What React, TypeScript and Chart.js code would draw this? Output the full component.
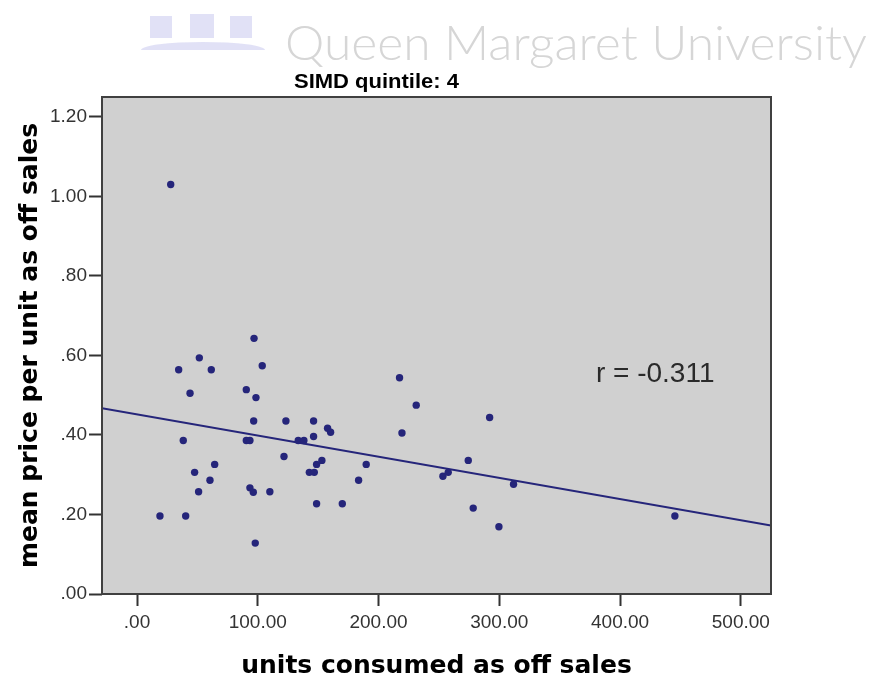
import React, { useEffect, useRef } from 'react';
import { Chart, registerables } from 'chart.js';

Chart.register(...registerables);

// ---- data ----
const unitsConsumed = [
  27.9, 19, 40.3, 34.5, 38.3, 43.9, 47.7, 51.6, 51, 60.4,
  61.5, 64.3, 90.5, 90.5, 93.5, 93.5, 96.9, 96.6, 98.5, 96.3,
  97.9, 103.7, 110, 121.7, 123.3, 133.5, 138.2, 142.7, 146.8, 146.2,
  146.2, 148.7, 148.7, 153.1, 157.8, 160.3, 170, 183.5, 189.8, 217.4,
  219.4, 231.2, 253.3, 257.7, 274.3, 278.4, 292, 299.7, 311.8, 445.4,
];
const meanPrice = [
  1.03, 0.196, 0.196, 0.564, 0.386, 0.505, 0.306, 0.594, 0.257, 0.286,
  0.564, 0.326, 0.514, 0.386, 0.386, 0.267, 0.643, 0.435, 0.494, 0.256,
  0.128, 0.574, 0.257, 0.346, 0.435, 0.386, 0.386, 0.306, 0.306, 0.435,
  0.396, 0.326, 0.227, 0.336, 0.417, 0.407, 0.227, 0.286, 0.326, 0.544,
  0.405, 0.475, 0.296, 0.306, 0.336, 0.216, 0.444, 0.169, 0.276, 0.196,
];
const fitLineX = [-29, 525];
const fitLineY = [0.467, 0.172];
const xTickValues = [0, 100, 200, 300, 400, 500];
const yTickValues = [0, 0.2, 0.4, 0.6, 0.8, 1.0, 1.2];
const xRange = [-29, 525];
const yRange = [0, 1.25];
const chartTitle = 'SIMD quintile: 4';
const xAxisTitle = 'units consumed as off sales';
const yAxisTitle = 'mean price per unit as off sales';
const correlationLabel = 'r = -0.311';
const correlationAt = [380, 0.553];
const watermarkText = 'Queen Margaret University';

const MARK = '#25257a';

const fmt = (v: any) => {
  const s = Number(v).toFixed(2);
  return s.replace(/^0\./, '.').replace(/^-0\./, '-.');
};

const decor = {
  id: 'decor',
  beforeDraw(chart: any) {
    const { ctx, chartArea: a } = chart;
    ctx.save();
    ctx.fillStyle = '#ffffff';
    ctx.fillRect(0, 0, chart.width, chart.height);
    // watermark logo (light lavender shapes)
    ctx.fillStyle = 'rgba(170,170,230,0.35)';
    ctx.beginPath();
    ctx.ellipse(203, 50, 62, 8, 0, Math.PI, 2 * Math.PI);
    ctx.fill();
    ctx.fillRect(150, 16, 22, 22);
    ctx.fillRect(190, 14, 24, 24);
    ctx.fillRect(230, 16, 22, 22);
    // watermark text, fitted to its span
    ctx.fillStyle = '#d6d6d6';
    ctx.font = '300 48px Lato, "Liberation Sans", sans-serif';
    ctx.textBaseline = 'alphabetic';
    ctx.textAlign = 'left';
    const w = ctx.measureText(watermarkText).width;
    ctx.translate(285, 60);
    ctx.scale(582 / w, 1);
    ctx.fillText(watermarkText, 0, 0);
    ctx.restore();
    ctx.save();
    // plot background
    ctx.fillStyle = '#d0d0d0';
    ctx.fillRect(a.left, a.top, a.right - a.left, a.bottom - a.top);
    ctx.restore();
  },
  afterDraw(chart: any) {
    const { ctx, chartArea: a, scales } = chart;
    ctx.save();
    ctx.strokeStyle = '#404040';
    ctx.lineWidth = 2;
    ctx.strokeRect(a.left, a.top, a.right - a.left, a.bottom - a.top);
    ctx.restore();
    ctx.save();
    ctx.fillStyle = '#000';
    ctx.font = 'bold 20px "Liberation Sans", Arial, sans-serif';
    ctx.textBaseline = 'alphabetic';
    ctx.textAlign = 'left';
    ctx.translate(294, 88);
    ctx.scale(1.1, 1);
    ctx.fillText(chartTitle, 0, 0);
    ctx.restore();
    ctx.save();
    ctx.fillStyle = '#2a2a2a';
    ctx.font = '28px "Liberation Sans", Arial, sans-serif';
    ctx.textBaseline = 'middle';
    ctx.textAlign = 'left';
    ctx.fillText(
      correlationLabel,
      scales.x.getPixelForValue(correlationAt[0]),
      scales.y.getPixelForValue(correlationAt[1])
    );
    ctx.restore();
  },
};

export default function App() {
  const ref = useRef<HTMLCanvasElement>(null);
  useEffect(() => {
    if (!ref.current) return;
    const chart = new Chart(ref.current, {
      type: 'scatter',
      data: {
        datasets: [
          {
            data: unitsConsumed.map((x, i) => ({ x, y: meanPrice[i] })),
            backgroundColor: MARK,
            borderColor: MARK,
            pointRadius: 3.7,
            pointBorderWidth: 0,
          },
          {
            data: fitLineX.map((x, i) => ({ x, y: fitLineY[i] })),
            showLine: true,
            borderColor: MARK,
            borderWidth: 2,
            pointRadius: 0,
            fill: false,
          } as any,
        ],
      },
      options: {
        animation: false,
        responsive: false,
        layout: { padding: { top: 97, right: 101, left: 0, bottom: 0 } },
        plugins: {
          legend: { display: false },
          tooltip: { enabled: false },
          title: { display: false },
        },
        scales: {
          x: {
            type: 'linear',
            min: xRange[0],
            max: xRange[1],
            afterBuildTicks: (s: any) => {
              s.ticks = xTickValues.map((v) => ({ value: v }));
            },
            afterFit: (s: any) => {
              s.height = 88;
            },
            grid: {
              drawOnChartArea: false,
              drawTicks: true,
              tickLength: 12,
              tickColor: '#333',
              tickWidth: 2,
            },
            border: { display: false },
            ticks: {
              font: { family: '"Liberation Sans", Arial, sans-serif', size: 19 },
              color: '#333',
              padding: 5,
              maxRotation: 0,
              callback: (v: any) => fmt(v),
            },
            title: {
              display: true,
              text: xAxisTitle,
              font: { family: '"DejaVu Sans", sans-serif', size: 25, weight: 'bold' },
              color: '#000',
              padding: { top: 0, bottom: 1 },
            },
          },
          y: {
            type: 'linear',
            min: yRange[0],
            max: yRange[1],
            afterBuildTicks: (s: any) => {
              s.ticks = yTickValues.map((v) => ({ value: v }));
            },
            afterFit: (s: any) => {
              s.width = 102;
            },
            grid: {
              drawOnChartArea: false,
              drawTicks: true,
              tickLength: 13,
              tickColor: '#333',
              tickWidth: 2,
            },
            border: { display: false },
            ticks: {
              font: { family: '"Liberation Sans", Arial, sans-serif', size: 19 },
              color: '#333',
              padding: 2,
              callback: (v: any) => fmt(v),
            },
            title: {
              display: true,
              text: yAxisTitle,
              font: { family: '"DejaVu Sans", sans-serif', size: 25, weight: 'bold' },
              color: '#000',
              padding: { top: 15, bottom: 0 },
            },
          },
        },
      },
      plugins: [decor],
    });
    return () => chart.destroy();
  }, []);
  return (
    <div style={{ position: 'absolute', left: 0, top: 0, width: 872, height: 682 }}>
      <canvas ref={ref} width={872} height={682} style={{ display: 'block' }} />
    </div>
  );
}
